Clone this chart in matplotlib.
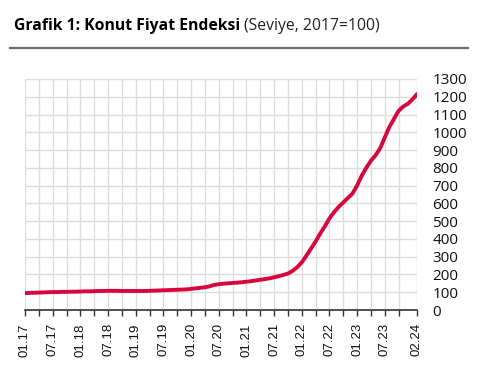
import numpy as np
import matplotlib
matplotlib.use('Agg')
import matplotlib.pyplot as plt
from matplotlib.lines import Line2D

plt.rcParams['font.family'] = ['Open Sans', 'DejaVu Sans']

# Konut Fiyat Endeksi, aylık (01.17 - 02.24)
kfe = [95, 96, 97, 98, 99, 100, 101, 101, 102, 102, 103, 103,
       104, 105, 105, 106, 107, 107, 108, 108, 108, 107, 107, 107,
       107, 107, 107, 108, 109, 110, 111, 112, 113, 114, 115, 116,
       119, 122, 125, 128, 133, 141, 145, 148, 150, 152, 154, 156,
       159, 162, 166, 170, 174, 178, 184, 190, 197, 205, 220, 240,
       268, 305, 345, 385, 430, 470, 515, 550, 580, 605, 630, 655,
       700, 755, 800, 840, 870, 910, 970, 1030, 1075, 1120, 1145, 1160,
       1185, 1215]
tick_labels = ['01.17', '07.17', '01.18', '07.18', '01.19', '07.19', '01.20',
               '07.20', '01.21', '07.21', '01.22', '07.22', '01.23', '07.23',
               '02.24']

x = np.arange(len(kfe))

fig = plt.figure(figsize=(4.8, 3.77), dpi=100)
ax = fig.add_axes([25 / 480, 67 / 377, 392 / 480, 231 / 377])

ax.plot(x, kfe, color='#d7063b', lw=2.8, solid_capstyle='round', zorder=3)

ax.set_xlim(0, len(kfe) - 1)
ax.set_ylim(0, 1300)
ax.set_yticks(np.arange(0, 1301, 100))
major = list(np.arange(0, 84, 6)) + [len(kfe) - 1]
ax.set_xticks(major)
ax.set_xticklabels(tick_labels, rotation=90, fontsize=9.5, color='#111111',
                   family=['Liberation Sans', 'DejaVu Sans'])
ax.set_xticks(np.arange(3, len(kfe), 6), minor=True)

ax.grid(True, which='both', color='#dcdcdc', lw=1, zorder=0)
ax.yaxis.tick_right()
ax.tick_params(axis='y', length=0, pad=11, labelsize=11, labelcolor='#111111')
ax.tick_params(axis='x', which='both', length=4.5, width=1, color='#333333',
               direction='out', pad=5)
for s in ['top', 'left', 'right']:
    ax.spines[s].set_visible(False)
ax.spines['bottom'].set_color('#333333')
ax.spines['bottom'].set_linewidth(1.2)

# başlık
t1 = fig.text(14 / 480, 1 - 26 / 377, 'Grafik 1: Konut Fiyat Endeksi',
              fontsize=11.3, fontweight='bold', va='center', ha='left')
fig.canvas.draw()
bb = t1.get_window_extent()
fig.text(bb.x1 / 480 + 4 / 480, 1 - 26 / 377, '(Seviye, 2017=100)',
         fontsize=11.3, va='center', ha='left', color='#222222')
fig.add_artist(Line2D([10 / 480, 468 / 480], [1 - 47.5 / 377, 1 - 47.5 / 377],
                      color='#6e6e6e', lw=1.6, transform=fig.transFigure))

fig.savefig('out.png', dpi=100)
